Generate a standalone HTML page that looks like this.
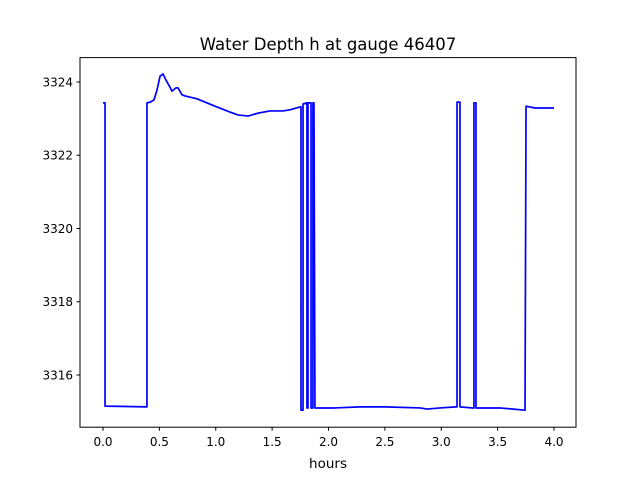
<!DOCTYPE html>
<html><head><meta charset="utf-8"><style>
body{margin:0;background:#fff;}
svg text{font-family:"DejaVu Sans","Liberation Sans",sans-serif;}
</style></head><body>
<svg id="chart" width="640" height="480" xmlns="http://www.w3.org/2000/svg">
<rect width="640" height="480" fill="#fff"/>
<text x="328" y="50" font-size="16.5" text-anchor="middle" fill="#000">Water Depth h at gauge 46407</text>
<g id="plot"></g>
<rect x="80" y="57.6" width="496" height="369.6" fill="none" stroke="#000" stroke-width="1"/>
<text x="328" y="468" font-size="13.5" text-anchor="middle">hours</text>
</svg>
<script>
const hours=[0,0.018,0.018,0.39,0.39,0.417,0.452,0.479,0.506,0.532,0.559,0.594,0.612,0.647,0.665,0.701,0.727,0.834,0.993,1.126,1.197,1.286,1.375,1.481,1.596,1.659,1.747,1.756,1.756,1.774,1.774,1.809,1.809,1.818,1.818,1.827,1.845,1.845,1.862,1.862,1.871,1.880,2.058,2.279,2.501,2.812,2.874,2.989,3.131,3.140,3.140,3.166,3.166,3.273,3.290,3.290,3.308,3.308,3.521,3.743,3.752,3.831,4.0];
const depth=[3323.43,3323.43,3315.15,3315.13,3323.43,3323.45,3323.51,3323.78,3324.16,3324.22,3324.05,3323.86,3323.75,3323.84,3323.84,3323.65,3323.62,3323.54,3323.34,3323.18,3323.10,3323.07,3323.15,3323.21,3323.21,3323.24,3323.32,3323.32,3315.04,3315.04,3323.40,3323.43,3315.10,3315.10,3323.43,3323.43,3323.43,3315.10,3315.10,3323.43,3323.43,3315.10,3315.10,3315.13,3315.13,3315.10,3315.07,3315.10,3315.13,3315.13,3323.45,3323.45,3315.13,3315.10,3315.10,3323.43,3323.43,3315.10,3315.10,3315.04,3323.34,3323.29,3323.29];
const xTicks=[0,0.5,1,1.5,2,2.5,3,3.5,4];
const xTickLabels=["0.0","0.5","1.0","1.5","2.0","2.5","3.0","3.5","4.0"];
const yTicks=[3316,3318,3320,3322,3324];
const yTickLabels=["3316","3318","3320","3322","3324"];
const ns="http://www.w3.org/2000/svg";
const sx=v=>103+v*112.75;
const sy=v=>82+(3324-v)*36.625;
const g=document.getElementById('plot');
function mk(t,a){const e=document.createElementNS(ns,t);for(const k in a)e.setAttribute(k,a[k]);return e;}
xTicks.forEach((t,i)=>{
  const l=mk('line',{x1:sx(t),x2:sx(t),y1:427.2,y2:430.7,stroke:'#000'});
  
  
  g.appendChild(l);
  const tx=mk('text',{x:sx(t),y:446,'font-size':12,'text-anchor':'middle'});
  
  
  tx.textContent=xTickLabels[i];g.appendChild(tx);
});
yTicks.forEach((t,i)=>{
  const l=mk('line',{x1:76.5,x2:80,y1:sy(t),y2:sy(t),stroke:'#000'});
  
  
  g.appendChild(l);
  const tx=mk('text',{x:73,y:sy(t)+4.3,'font-size':12,'text-anchor':'end'});
  
  
  tx.textContent=yTickLabels[i];g.appendChild(tx);
});
const p=mk('polyline',{points:hours.map((h,i)=>sx(h)+','+sy(depth[i])).join(' '),fill:'none',stroke:'#0000ff','stroke-width':1.7,'stroke-linejoin':'round'});


g.appendChild(p);
</script>
</body></html>
